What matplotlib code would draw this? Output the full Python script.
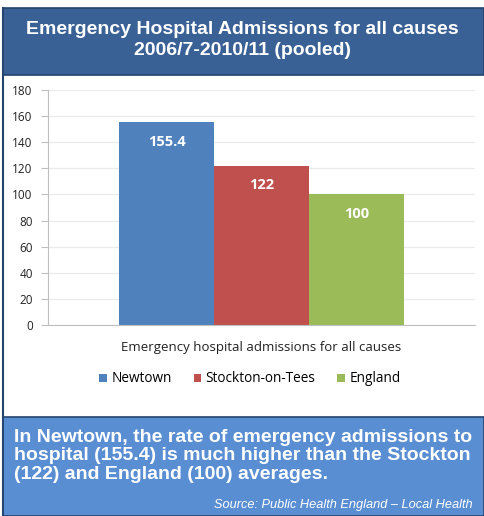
import matplotlib.pyplot as plt
from matplotlib.patches import Rectangle

# data
areas = ['Newtown', 'Stockton-on-Tees', 'England']
rates = [155.4, 122, 100]
bar_labels = ['155.4', '122', '100']
colors = ['#4F81BD', '#C0504D', '#9BBB59']
category = 'Emergency hospital admissions for all causes'
yticks = [0, 20, 40, 60, 80, 100, 120, 140, 160, 180]

W, H = 484, 516
fig = plt.figure(figsize=(W / 100, H / 100), dpi=100)
fig.patch.set_facecolor('white')

def fx(x): return x / W
def fy(y): return 1 - y / H

# title band and bottom band
fig.patches.append(Rectangle((fx(3), fy(75)), fx(481), 67 / H, transform=fig.transFigure,
                             facecolor='#3A6196', edgecolor='#25446e', lw=1.2, zorder=0))
fig.patches.append(Rectangle((fx(3), 0), fx(481), fy(417), transform=fig.transFigure,
                             facecolor='#5A8ED3', edgecolor='#25446e', lw=1.2, zorder=0))
# left frame line
fig.add_artist(plt.Line2D([fx(3), fx(3)], [0, fy(8)], transform=fig.transFigure,
                          color='#25446e', lw=1.5))

fig.text(0.5, fy(40), 'Emergency Hospital Admissions for all causes\n2006/7-2010/11 (pooled)',
         ha='center', va='center', color='white', fontsize=14, fontweight='bold',
         family='Liberation Sans', linespacing=1.35)

ax = fig.add_axes([fx(48), fy(325), fx(475) - fx(48), (325 - 90) / H])
w = 0.667 / 3
for i, (v, c, lab) in enumerate(zip(rates, colors, bar_labels)):
    x = (i - 1) * w
    ax.bar(x, v, width=w, color=c, label=areas[i], zorder=2)
    ax.text(x, v - 15, lab, ha='center', va='center', color='white',
            fontsize=10.5, fontweight='bold', family='Open Sans', zorder=3)

ax.set_xlim(-0.5, 0.5)
ax.set_ylim(0, 180)
ax.set_yticks(yticks)
ax.yaxis.grid(True, color='#ebebeb', lw=0.9, zorder=0)
ax.set_xticks([])
for s in ['top', 'right']:
    ax.spines[s].set_visible(False)
ax.spines['left'].set_color('#bfbfbf')
ax.spines['bottom'].set_color('#bfbfbf')
ax.tick_params(axis='y', colors='#bfbfbf', labelcolor='#222222', labelsize=8.5, length=5, pad=6)
for t in ax.get_yticklabels():
    t.set_family('Open Sans')

fig.text(fx(261), fy(347), category, ha='center', va='center', fontsize=9.5,
         color='#222222', family='Open Sans')
leg = fig.legend(loc='center', bbox_to_anchor=(fx(250), fy(379)), ncol=3, frameon=False,
                 handlelength=0.55, handleheight=0.55, handletextpad=0.35, columnspacing=1.6,
                 prop={'family': 'Open Sans', 'size': 9.8})

fig.text(fx(14), fy(456), 'In Newtown, the rate of emergency admissions to\n'
         'hospital (155.4) is much higher than the Stockton\n'
         '(122) and England (100) averages.', ha='left', va='center', color='white',
         fontsize=14, fontweight='bold', family='Liberation Sans', linespacing=1.12)
fig.text(fx(473), fy(505), 'Source: Public Health England \u2013 Local Health', ha='right',
         va='center', color='white', fontsize=9.2, style='italic', family='Liberation Sans')

fig.savefig('out.png', dpi=100)
